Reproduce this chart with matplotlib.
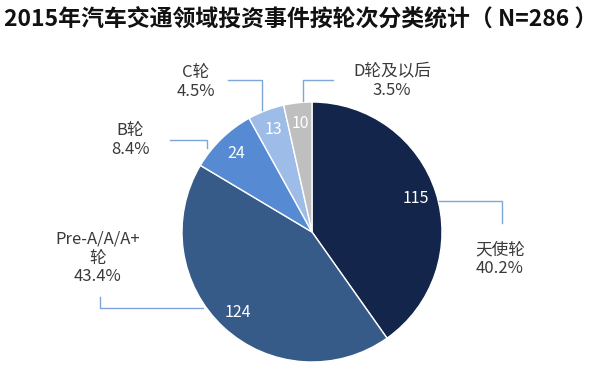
import matplotlib
matplotlib.use('Agg')
import matplotlib.pyplot as plt

plt.rcParams['font.family'] = ['Noto Sans CJK SC', 'DejaVu Sans']

categories = ['天使轮', 'Pre-A/A/A+\n轮', 'B轮', 'C轮', 'D轮及以后']
counts = [115, 124, 24, 13, 10]
colors = ['#13254a', '#375b89', '#568bd3', '#9dbde8', '#bfbfbf']
title = '2015年汽车交通领域投资事件按轮次分类统计（ N=286 ）'

W, H = 600, 374
total = sum(counts)

# label centres and leader-line paths in pixel space (y down)
label_pos = [(500, 259), (98, 258), (130, 140), (196, 82), (392, 81)]
leaders = [
    [(439, 201), (502, 201), (502, 223)],
    [(203, 308), (100, 308), (100, 297)],
    [(207, 148), (207, 140), (170, 140)],
    [(262, 110), (262, 80), (228, 80)],
    [(303, 101), (303, 80), (333, 80)],
]


def px(x, y):
    return x, H - y


fig = plt.figure(figsize=(6, 3.74), dpi=100)
ax = fig.add_axes([0, 0, 1, 1])

cx, cy = px(312, 232)
wedges, _, autotexts = ax.pie(
    counts, colors=colors, startangle=90, counterclock=False,
    center=(cx, cy), radius=130, frame=True,
    autopct=lambda p: f'{round(p * total / 100):d}', pctdistance=0.84,
    wedgeprops=dict(edgecolor='white', linewidth=1),
    textprops=dict(color='white', fontsize=11.5))
ax.set_xlim(0, W)
ax.set_ylim(0, H)
ax.set_aspect('equal')
ax.axis('off')

for cat, n, (lx, ly), path in zip(categories, counts, label_pos, leaders):
    ax.text(*px(lx, ly), f'{cat}\n{n / total * 100:.1f}%', ha='center', va='center',
            fontsize=12, color='#3a3a3a', linespacing=1.15)
    xs = [p[0] for p in path]
    ys = [H - p[1] for p in path]
    ax.plot(xs, ys, color='#7fa6d9', linewidth=1)

ax.text(*px(301, 19), title, ha='center', va='center', fontsize=16.5,
        fontweight='bold', color='#111111')

fig.savefig('out.png', dpi=100)
